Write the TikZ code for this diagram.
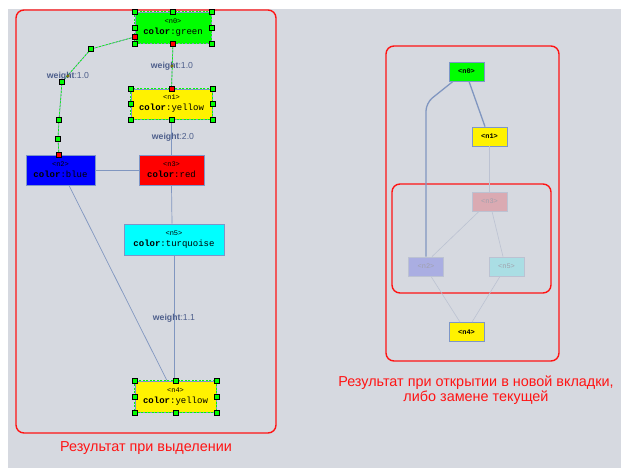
\documentclass[tikz,border=0pt]{standalone}
\usepackage{fontspec}
\setmainfont{Liberation Sans}
\newfontfamily\monofont{Liberation Mono}
\usetikzlibrary{calc}
\definecolor{bg}{RGB}{214,217,224}
\definecolor{edgec}{RGB}{128,150,192}
\definecolor{faintc}{RGB}{188,194,210}
\definecolor{nodeb}{RGB}{125,150,200}
\definecolor{lblc}{RGB}{78,95,140}
\definecolor{selg}{RGB}{0,255,0}
\definecolor{turq}{RGB}{0,255,255}
\definecolor{fred}{RGB}{218,170,178}
\definecolor{fblue}{RGB}{170,174,226}
\definecolor{fcyan}{RGB}{170,222,228}
\definecolor{capred}{RGB}{255,20,20}
\definecolor{ftext}{RGB}{160,160,172}
\newcommand{\ntx}[2]{{\fontsize{7}{8}\selectfont<#1>}\\{\textbf{color}:#2}}
\begin{document}
\begin{tikzpicture}[x=1pt,y=-1pt,
  box/.style={draw=nodeb, line width=0.8pt, inner sep=0pt, align=center,
    font=\monofont\fontsize{9}{11}\selectfont},
  rbox/.style={draw=nodeb, line width=0.8pt, inner sep=0pt,
    minimum width=35pt, minimum height=19pt,
    font=\monofont\bfseries\fontsize{7}{8}\selectfont},
  fbox/.style={rbox, draw=faintc, text=ftext, font=\monofont\fontsize{7}{8}\selectfont},
  seldash/.style={selg, line width=0.7pt, dash pattern=on 2pt off 1.5pt},
  hdl/.style={rectangle, draw=black, fill=selg, line width=0.4pt, minimum size=5pt, inner sep=0pt},
  hdlr/.style={hdl, fill=red},
  lnk/.style={edgec, line width=0.7pt},
  rlnk/.style={edgec, line width=1.3pt},
  flnk/.style={faintc, line width=0.6pt},
  lbl/.style={text=lblc, inner sep=0pt, font=\fontsize{8.7}{10}\selectfont},
  panel/.style={capred, line width=1.4pt, rounded corners=8pt},
  captxt/.style={text=capred, inner sep=0pt, font=\fontsize{14.4}{15}\selectfont}]
\useasboundingbox (0,0) rectangle (621,468);
\fill[white] (0,0) rectangle (621,468);
\fill[bg] (8,9) rectangle (621,468);

% ---------- left panel ----------
\node[box, fill=selg, minimum width=76pt, minimum height=31pt] (ln0) at (173,27.5) {\ntx{n0}{green}};
\node[box, fill=yellow, minimum width=81pt, minimum height=30pt] (ln1) at (171.5,104) {\ntx{n1}{yellow}};
\node[box, fill=blue, minimum width=69pt, minimum height=30pt] (ln2) at (60.5,170) {\ntx{n2}{blue}};
\node[box, fill=red, minimum width=65pt, minimum height=30pt] (ln3) at (171.5,170) {\ntx{n3}{red}};
\node[box, fill=turq, minimum width=100pt, minimum height=31pt] (ln5) at (174,239.5) {\ntx{n5}{turquoise}};
\node[box, fill=yellow, minimum width=81pt, minimum height=31pt] (ln4) at (175.5,396.5) {\ntx{n4}{yellow}};

\draw[panel] (16,10) rectangle (276,433);

% edges
\draw[lnk] (ln0.south) -- (ln1.north);
\draw[seldash] (ln0.south) -- (ln1.north);
\draw[lnk] (ln1.south) -- (ln3.north);
\draw[lnk] (ln2.east) -- (ln3.west);
\draw[lnk] (ln3.south) -- ($(ln5.north)+(-2,0)$);
\draw[lnk] (ln5.south) -- ($(ln4.north)+(-1.5,0)$);
\draw[lnk] ($(ln2.south)+(8.5,0)$) -- ($(ln4.north)+(-8.5,0)$);
\coordinate (p0) at ($(ln0.west)+(0,9.5)$);
\coordinate (p1) at (91,49);
\coordinate (p2) at (62,82);
\coordinate (p3) at (59,120);
\coordinate (p4) at (58,139);
\coordinate (p5) at ($(ln2.north)+(-1.5,0)$);
\draw[lnk] (p0) -- (p1) -- (p2) -- (p3) -- (p4) -- (p5);
\draw[seldash] (p0) -- (p1) -- (p2) -- (p3) -- (p4) -- (p5);

% selected node borders
\foreach \n in {ln0,ln1,ln4}
  \draw[seldash] (\n.north west) rectangle (\n.south east);

% labels
\node[lbl] (w01) at (172,66) {\textbf{weight}:1.0};
\node[lbl] (w13) at (173,137) {\textbf{weight}:2.0};
\node[lbl] (w54) at (174,318) {\textbf{weight}:1.1};
\node[lbl] (w02) at (68,76) {\textbf{weight}:1.0};
\fill[yellow] (w01.center) circle (1.3pt);
\draw[black, line width=0.3pt] (w01.center) circle (1.3pt);
\fill[yellow] (w02.center) circle (1.3pt);
\draw[black, line width=0.3pt] (w02.center) circle (1.3pt);

% handles
\foreach \a [count=\i] in {north west,north,north east,west,east,south west,south east}
  \node[hdl] (h0-\i) at (ln0.\a) {};
\node[hdlr] (h0-r1) at (ln0.south) {};
\node[hdlr] (h0-r2) at (p0) {};
\foreach \a [count=\i] in {north west,north east,west,east,south west,south,south east}
  \node[hdl] (h1-\i) at (ln1.\a) {};
\node[hdlr] (h1-r) at (ln1.north) {};
\foreach \a [count=\i] in {north west,north,north east,west,east,south west,south,south east}
  \node[hdl] (h4-\i) at (ln4.\a) {};
\foreach \p [count=\i] in {p1,p2,p3,p4}
  \node[hdl] (he-\i) at (\p) {};
\node[hdlr] (he-r) at (p5) {};

\node[captxt] (cap1) at (146,448) {Результат при выделении};

% ---------- right panel ----------
\draw[panel] (386,46) rectangle (559,361);
\draw[panel] (392,184) rectangle (551,293);

\node[rbox, fill=selg] (rn0) at (466.5,71.5) {<n0>};
\node[rbox, fill=yellow] (rn1) at (489.5,136.5) {<n1>};
\node[fbox, fill=fred] (rn3) at (489.5,201.5) {<n3>};
\node[fbox, fill=fblue] (rn2) at (426,266.5) {<n2>};
\node[fbox, fill=fcyan] (rn5) at (506.5,266.5) {<n5>};
\node[rbox, fill=yellow] (rn4) at (466.5,332) {<n4>};

\draw[rlnk] ($(rn0.south)+(2.5,0)$) -- ($(rn1.north)+(-4.5,0)$);
\draw[rlnk, rounded corners=8pt] ($(rn0.south)+(-13.5,0)$) -- (426,103) -- (rn2.north);
\draw[flnk] (rn1.south) -- (rn3.north);
\draw[flnk] ($(rn3.south)+(-10.5,0)$) -- ($(rn2.north)+(6,0)$);
\draw[flnk] ($(rn3.south)+(2.5,0)$) -- ($(rn5.north)+(-3.5,0)$);
\draw[flnk] ($(rn2.south)+(5,0)$) -- ($(rn4.north)+(-6.5,0)$);
\draw[flnk] ($(rn5.south)+(-6.5,0)$) -- ($(rn4.north)+(5.5,0)$);

\node[captxt, align=center] (cap2) at (476,390.5) {Результат при открытии в новой вкладки,\\либо замене текущей};
\end{tikzpicture}
\end{document}
